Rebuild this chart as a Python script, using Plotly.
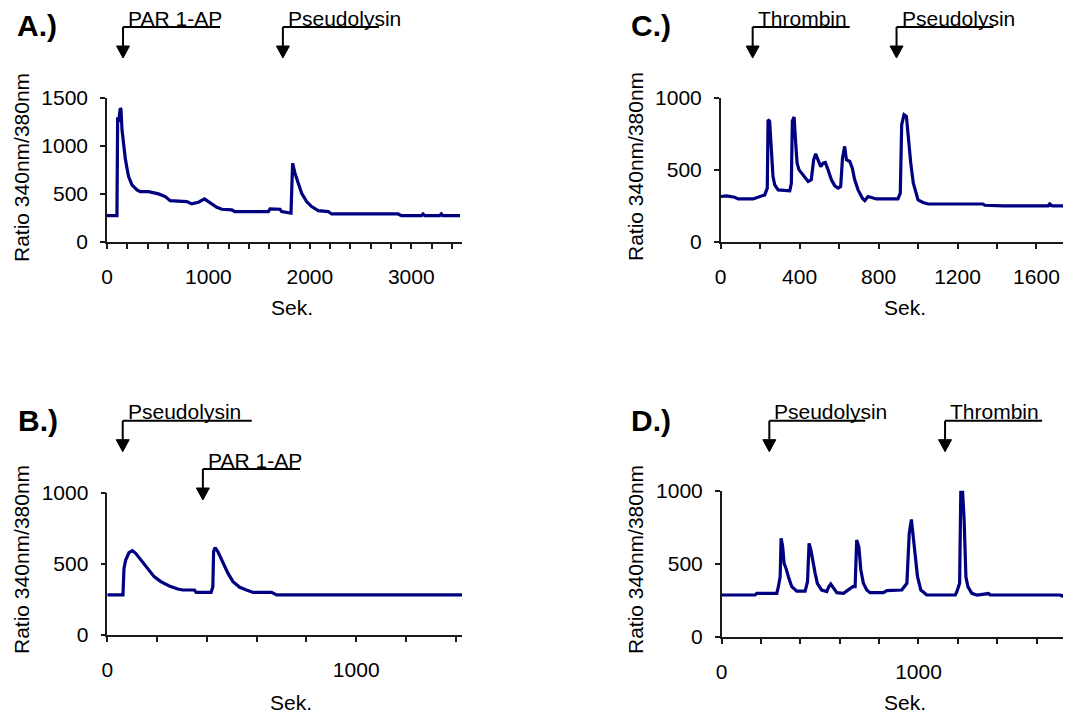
import plotly.graph_objects as go

# page is 1071x715 but the html body has an 8px margin -> figure drawn 8px in
OFF = 8
W, H = 1071 - OFF, 715 - OFF

# ---------------- data (seconds, ratio 340nm/380nm) ----------------
A_t = [0, 98, 105, 115, 131, 138, 148, 164, 180, 197, 213, 246, 295, 328, 410, 508, 574, 623, 787, 836,
       902, 961, 1017, 1082, 1132, 1230, 1263, 1591, 1607, 1706, 1722, 1788, 1814, 1830, 1853, 1886, 1919,
       1968, 2017, 2083, 2181, 2214, 2870, 2903, 3100, 3116, 3132, 3280, 3296, 3310, 3480]
A_v = [275, 275, 1300, 1250, 1395, 1380, 1169, 995, 873, 769, 682, 595, 543, 525, 525, 501, 473, 431, 421, 397,
       414, 449, 410, 362, 341, 334, 317, 317, 345, 341, 317, 299, 300, 821, 717, 612, 508,
       421, 369, 327, 317, 292, 292, 275, 275, 292, 275, 275, 292, 275, 275]

C_t = [0, 29, 71, 88, 164, 189, 223, 236, 240, 248, 257, 265, 274, 291, 350, 358, 363, 372, 380, 387,
       397, 417, 443, 459, 471, 481, 493, 507, 519, 530, 544, 561, 578, 595, 608, 617, 628, 637, 654, 667,
       679, 696, 718, 730, 747, 789, 898, 910, 917, 929, 941, 949, 963, 976, 988, 1000, 1025, 1051, 1329, 1338,
       1431, 1659, 1667, 1680, 1775]
C_v = [316, 320, 311, 299, 299, 311, 327, 374, 849, 838, 594, 455, 397, 362, 355, 408, 840, 868, 687, 548,
       501, 466, 420, 432, 571, 612, 571, 524, 548, 552, 501, 432, 390, 374, 385, 582, 664, 571, 559, 513,
       432, 362, 304, 288, 316, 299, 299, 339, 814, 884, 872, 733, 548, 408, 339, 292, 274, 264, 264, 255,
       251, 251, 264, 251, 251]

B_t = [0, 63, 67, 74, 87, 101, 114, 135, 162, 188, 215, 249, 283, 303, 350, 357, 417, 424, 427, 433,
       444, 464, 485, 505, 532, 559, 586, 660, 680, 1425]
B_v = [282, 282, 469, 528, 580, 594, 575, 528, 462, 411, 376, 345, 324, 317, 317, 300, 300, 340, 587, 615,
       587, 516, 434, 376, 336, 317, 300, 300, 282, 282]

D_t = [0, 170, 178, 280, 288, 297, 302, 310, 317, 327, 339, 356, 381, 424, 436, 444, 453, 463, 475, 486,
       508, 534, 544, 554, 568, 585, 619, 644, 666, 678, 686, 697, 707, 720, 737, 754, 822, 839, 915, 941,
       953, 964, 975, 983, 995, 1012, 1042, 1187, 1195, 1209, 1215, 1224, 1232, 1241, 1251, 1271, 1297, 1356, 1364, 1720,
       1729, 1740, 1775]
D_v = [287, 287, 298, 298, 344, 412, 674, 617, 503, 469, 412, 344, 314, 314, 378, 640, 595, 515, 435, 367,
       321, 310, 344, 362, 333, 303, 298, 326, 344, 344, 663, 617, 458, 367, 321, 303, 303, 317, 321, 367,
       708, 804, 663, 515, 412, 321, 287, 287, 310, 367, 995, 995, 800, 412, 344, 298, 287, 297, 287, 287,
       280, 287, 287]

# event markers (label, time in s)
A_events = [("PAR 1-AP", 158), ("Pseudolysin", 1734)]
C_events = [("Thrombin", 162), ("Pseudolysin", 891)]
B_events = [("Pseudolysin", 62), ("PAR 1-AP", 384)]
D_events = [("Pseudolysin", 242), ("Thrombin", 1135)]

panel_labels = ["A.)", "C.)", "B.)", "D.)"]
y_title = "Ratio 340nm/380nm"
x_title = "Sek."

# ---------------- layout helpers ----------------
FONT = "Liberation Sans, Arial, sans-serif"
LINE_COLOR = "#000080"
AX_COLOR = "#1a1a1a"


def px_x(p):
    return (p - OFF) / W


def px_y(p):
    return 1 - (p - OFF) / H


panels = [
    dict(t=A_t, v=A_v, xr=[0, 3500], xmaj=1000, yr=[0, 1500], box=(107, 462, 98, 242), ev=A_events,
         lev=[27, 27], lens=[97, 96], lab=(15, 26), ytp=(21, 168), xtp=(292, 307)),
    dict(t=C_t, v=C_v, xr=[0, 1775], xmaj=400, yr=[0, 1000], box=(720.7, 1071, 98, 242), ev=C_events,
         lev=[27, 27], lens=[97, 97], lab=(629, 26), ytp=(635, 167), xtp=(905, 307)),
    dict(t=B_t, v=B_v, xr=[0, 1425], xmaj=1000, yr=[0, 1000], box=(107.3, 462, 493, 635), ev=B_events,
         lev=[420.7, 469], lens=[129, 97], lab=(16, 420), ytp=(21, 560), xtp=(291, 702)),
    dict(t=D_t, v=D_v, xr=[0, 1775], xmaj=1000, yr=[0, 1000], box=(721.7, 1071, 490.7, 637), ev=D_events,
         lev=[420.7, 420.7], lens=[96, 97], lab=(629, 420), ytp=(635, 560), xtp=(905, 702)),
]

fig = go.Figure()
shapes = []
annotations = []
layout = dict(
    template="none",
    width=W, height=H, autosize=False,
    margin=dict(l=0, r=0, t=0, b=0, pad=0, autoexpand=False),
    paper_bgcolor="white", plot_bgcolor="white",
    showlegend=False,
    font=dict(family=FONT, size=21, color="black"),
)

for i, p in enumerate(panels):
    n = "" if i == 0 else str(i + 1)
    xname, yname = "x" + n, "y" + n
    fig.add_trace(go.Scatter(x=p["t"], y=p["v"], mode="lines", xaxis=xname, yaxis=yname,
                             line=dict(color=LINE_COLOR, width=3.2), hoverinfo="skip"))
    l, r, tp, bt = p["box"]
    layout["xaxis" + n] = dict(
        domain=[max(px_x(l), 0.0), min(px_x(r), 1.0)], range=p["xr"], anchor=yname, automargin=False,
        showline=True, linecolor=AX_COLOR, linewidth=1.5, showgrid=False, zeroline=False,
        ticks="outside", ticklen=5, tickwidth=1.5, tickcolor=AX_COLOR,
        tick0=0, dtick=p["xmaj"], tickfont=dict(size=21, family=FONT, color="black"),
        minor=dict(dtick=200, tick0=0, ticks="outside", ticklen=5, tickwidth=1.5, tickcolor=AX_COLOR, showgrid=False),
        ticklabelstandoff=10, fixedrange=True,
    )
    layout["yaxis" + n] = dict(
        domain=[px_y(bt), px_y(tp)], range=p["yr"], anchor=xname, automargin=False,
        showline=True, linecolor=AX_COLOR, linewidth=1.5, showgrid=False, zeroline=False,
        ticks="outside", ticklen=5, tickwidth=1.5, tickcolor=AX_COLOR,
        tick0=0, dtick=500, tickfont=dict(size=21, family=FONT, color="black"),
        ticklabelstandoff=8, fixedrange=True,
    )
    for (txt, tev), lev, ln in zip(p["ev"], p["lev"], p["lens"]):
        shapes.append(dict(type="path", xref=xname, yref="paper", xsizemode="pixel", ysizemode="pixel",
                           xanchor=tev, yanchor=px_y(lev),
                           path=f"M0,0 L{ln},0 M0,0 L0,-20",
                           line=dict(color="black", width=2)))
        shapes.append(dict(type="path", xref=xname, yref="paper", xsizemode="pixel", ysizemode="pixel",
                           xanchor=tev, yanchor=px_y(lev),
                           path="M-6.5,-19 L6.5,-19 L0,-31 Z",
                           fillcolor="black", line=dict(color="black", width=1)))
        annotations.append(dict(text=txt, xref=xname, x=tev, yref="paper", y=px_y(lev - 9),
                                xanchor="left", yanchor="middle", xshift=3, showarrow=False,
                                font=dict(size=21, family=FONT, color="black")))
    lx, ly = p["lab"]
    annotations.append(dict(text="<b>" + panel_labels[i] + "</b>", xref="paper", yref="paper",
                            x=px_x(lx), y=px_y(ly), xanchor="left", yanchor="middle", showarrow=False,
                            font=dict(size=30, family=FONT, color="black")))
    yx, yy = p["ytp"]
    annotations.append(dict(text=y_title, xref="paper", yref="paper", x=px_x(yx), y=px_y(yy),
                            xanchor="center", yanchor="middle", textangle=-90, showarrow=False,
                            font=dict(size=21, family=FONT, color="black")))
    xx, xy = p["xtp"]
    annotations.append(dict(text=x_title, xref="paper", yref="paper", x=px_x(xx), y=px_y(xy),
                            xanchor="center", yanchor="middle", showarrow=False,
                            font=dict(size=21, family=FONT, color="black")))

layout["shapes"] = shapes
layout["annotations"] = annotations
fig.update_layout(**layout)
fig.write_html("out.html", config={"displayModeBar": False})
